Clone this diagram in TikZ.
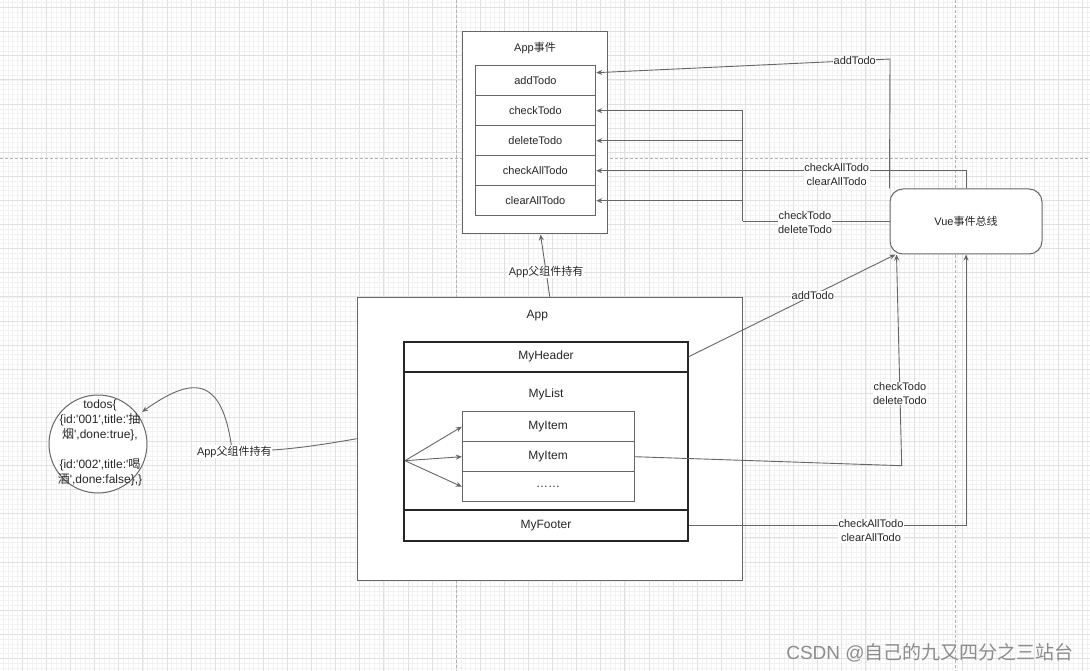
\documentclass[tikz,border=0pt]{standalone}
\usepackage{fontspec}
\setmainfont{Liberation Sans}
\newfontfamily\cjk{Noto Sans CJK SC}
\usetikzlibrary{arrows.meta,calc}
\newcommand{\zh}[1]{{\cjk #1}}
\newcommand{\qq}{\textquotesingle}
\begin{document}
\begin{tikzpicture}[x=1pt,y=-1pt,
  every node/.style={font=\fontsize{11}{14}\selectfont, text=black!85},
  box/.style={draw=black!60, line width=1pt, fill=white},
  rowbox/.style={draw=black!60, line width=0.9pt, fill=white, minimum width=120.7pt, minimum height=30pt, inner sep=0pt},
  itembox/.style={draw=black!60, line width=0.9pt, fill=white, minimum width=171.7pt, minimum height=30pt, inner sep=0pt, font=\fontsize{12}{14}\selectfont},
  thickbox/.style={draw=black!85, line width=2pt, fill=white, minimum width=283.4pt, inner sep=0pt, font=\fontsize{12}{14}\selectfont},
  edge/.style={draw=black!60, line width=0.9pt, -{Stealth[length=6pt,width=5pt]}},
  plainline/.style={draw=black!60, line width=0.9pt},
  lbl/.style={fill=white, inner sep=0.5pt, align=center},
  minorgrid/.style={draw=black!5, line width=0.6pt},
  majorgrid/.style={draw=black!12, line width=0.8pt},
  pagebreak/.style={draw=black!30, line width=0.8pt, dash pattern=on 3pt off 2pt}]

\useasboundingbox (0,0) rectangle (1090,671);
\fill[white] (0,0) rectangle (1090,671);

% grid
\foreach \i in {0,...,225} {\draw[minorgrid] ({3.02+4.82*\i},0) -- ({3.02+4.82*\i},671);}
\foreach \i in {0,...,138} {\draw[minorgrid] (0,{2.78+4.82*\i}) -- (1090,{2.78+4.82*\i});}
\foreach \i in {0,...,44} {\draw[majorgrid] ({22.3+24.1*\i},0) -- ({22.3+24.1*\i},671);}
\foreach \i in {0,...,27} {\draw[majorgrid] (0,{7.6+24.1*\i}) -- (1090,{7.6+24.1*\i});}
\draw[pagebreak] (456,0) -- (456,671);
\draw[pagebreak] (955,0) -- (955,671);
\draw[pagebreak] (0,158) -- (1090,158);

% App events box
\node[box, minimum width=145pt, minimum height=202pt] (appev) at (534.5,133) {};
\node (appevt) at (535,48) {App\zh{事件}};
\node[rowbox] (ev1) at (535.4,80.7) {addTodo};
\node[rowbox] (ev2) at (535.4,110.7) {checkTodo};
\node[rowbox] (ev3) at (535.4,140.7) {deleteTodo};
\node[rowbox] (ev4) at (535.4,170.7) {checkAllTodo};
\node[rowbox] (ev5) at (535.4,200.7) {clearAllTodo};

% Vue event bus
\node[box, rounded corners=13pt, minimum width=152pt, minimum height=65pt] (vue) at (966,221.5) {Vue\zh{事件总线}};

% App box
\node[box, line width=1.1pt, minimum width=385pt, minimum height=282.7pt] (app) at (549.8,438.7) {};
\node[font=\fontsize{12}{14}\selectfont] (appt) at (537.3,315.7) {App};
\node[thickbox, minimum height=138.3pt] (lst) at (546,440.85) {};
\node[thickbox, minimum height=30pt] (hdr) at (546,356.7) {MyHeader};
\node[thickbox, minimum height=30.7pt] (ftr) at (546,525.35) {MyFooter};
\node[font=\fontsize{12}{14}\selectfont] (lstt) at (546,394) {MyList};
\node[itembox] (it1) at (548.15,426.7) {MyItem};
\node[itembox] (it2) at (548.15,456.7) {MyItem};
\node[itembox] (it3) at (548.15,486.7) {……};

% todos circle
\node[box, circle, minimum size=98pt, inner sep=0pt] (todos) at (98,444) {};
\node[align=center, font=\fontsize{12}{15}\selectfont] (todost) at (100,442.5)
  {todos\{\\ \{id:\qq001\qq,title:\qq\zh{抽}\\ \zh{烟}\qq,done:true\},\\ \mbox{}\\ \{id:\qq002\qq,title:\qq\zh{喝}\\ \zh{酒}\qq,done:false\},\}};

% edges from Vue bus to App events
\draw[edge] (vue.north west) -- (890,59) -- node[lbl, pos=0.12] (l1) {addTodo} ($(ev1.east)+(0,-8)$);
\draw[edge] (vue.north) |- (ev4.east);
\coordinate (jn) at (742.7,221.5);
\draw[plainline] (vue.west) -- (jn);
\draw[edge] (jn) |- (ev2.east);
\draw[edge] (jn) |- (ev3.east);
\draw[edge] (jn) |- (ev5.east);
\node[lbl] (l2) at (836.7,174.3) {checkAllTodo\\clearAllTodo};
\node[lbl] (l3) at (805,222.7) {checkTodo\\deleteTodo};

% edges from components to Vue bus
\draw[edge] (hdr.east) -- node[lbl, pos=0.6] (l4) {addTodo} ($(vue.south west)+(6,0)$);
\draw[edge] (it2.east) -- (901.7,465.7) -- node[lbl, pos=0.34] (l5) {checkTodo\\deleteTodo} ($(vue.south west)+(7,0)$);
\draw[edge] (ftr.east) -| (vue.south);
\node[lbl] (l6) at (871,531) {checkAllTodo\\clearAllTodo};

% App holds App events
\draw[edge] (app.north) -- node[lbl, pos=0.4] (l7) {App\zh{父组件持有}} ($(appev.south)+(6,0)$);

% MyList fan to items
\coordinate (fan) at (405,460.7);
\draw[edge] (fan) -- (it1.west);
\draw[edge] (fan) -- (it2.west);
\draw[edge] (fan) -- (it3.west);

% App holds todos
\draw[edge] (app.west) .. controls (310,447) and (265,453) .. (232,450) .. controls (222,372) and (190,378) .. ($(todos.36)+(4,-3)$);
\node[lbl] (l8) at (234.3,451.7) {App\zh{父组件持有}};

% watermark
\node[font=\fontsize{19}{19}\selectfont, text=black!45] (wm) at (930,652.7) {CSDN @\zh{自己的九又四分之三站台}};
\end{tikzpicture}
\end{document}
